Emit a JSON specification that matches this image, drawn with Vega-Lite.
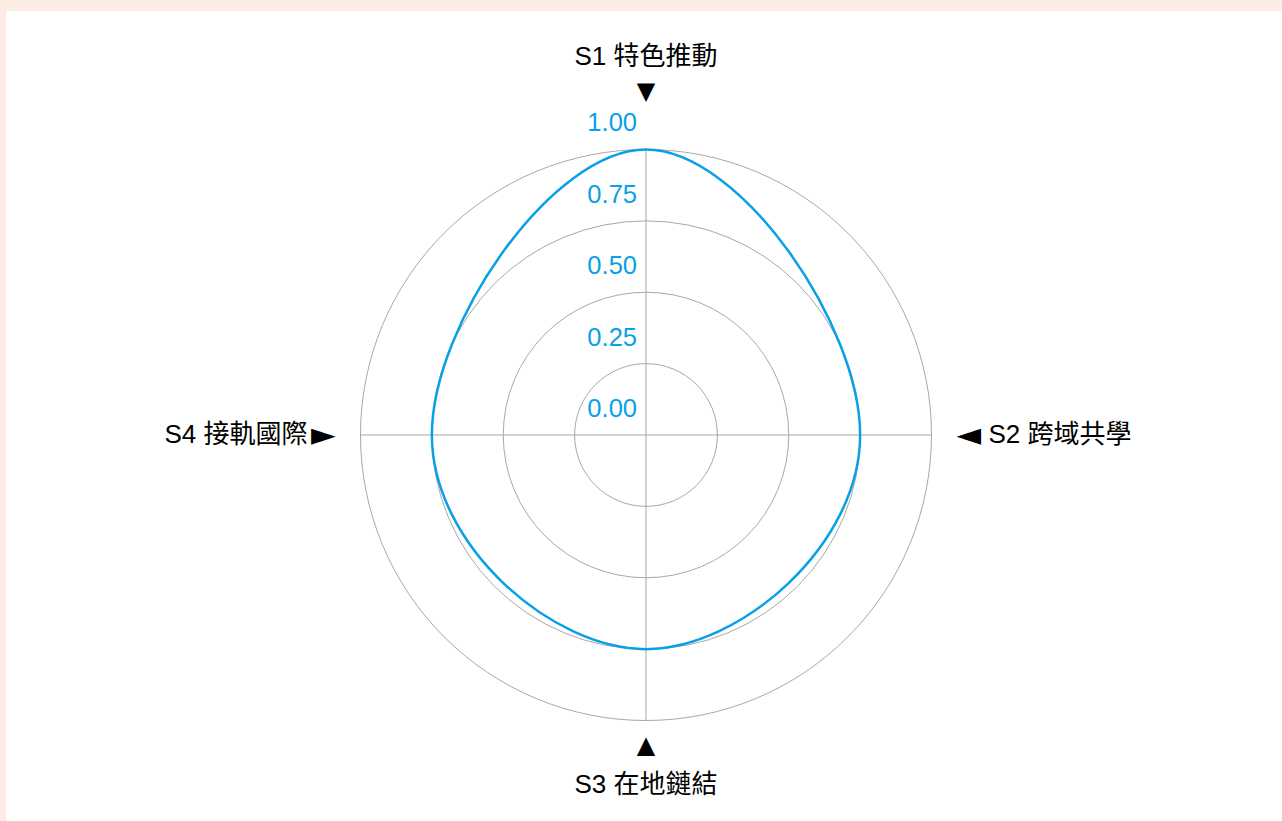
{
  "$schema": "https://vega.github.io/schema/vega-lite/v6.json",
  "width": 1276,
  "height": 810,
  "autosize": {"type": "none"},
  "padding": {"left": 6, "top": 11, "right": 0, "bottom": 0},
  "background": "#fdece4",
  "view": {"fill": "#ffffff", "stroke": null},
  "config": {"font": "Liberation Sans, Noto Sans CJK TC, sans-serif"},
  "datasets": {
    "scores": [
      {"axis": "S1 特色推動", "angle": 0, "score": 1.0},
      {"axis": "S2 跨域共學", "angle": 90, "score": 0.75},
      {"axis": "S3 在地鏈結", "angle": 180, "score": 0.75},
      {"axis": "S4 接軌國際", "angle": 270, "score": 0.75}
    ],
    "ticks": [{"v": 0}, {"v": 0.25}, {"v": 0.5}, {"v": 0.75}, {"v": 1}]
  },
  "data": {"name": "scores"},
  "transform": [
    {"calculate": "sin(datum.angle * PI / 180)", "as": "ex"},
    {"calculate": "cos(datum.angle * PI / 180)", "as": "ey"},
    {"calculate": "0", "as": "o"},
    {"calculate": "datum.score * datum.ex", "as": "px"},
    {"calculate": "datum.score * datum.ey", "as": "py"}
  ],
  "layer": [
    {
      "data": {"name": "ticks"},
      "transform": [{"filter": "datum.v > 0"}, {"calculate": "0", "as": "o"}],
      "mark": {"type": "arc", "filled": false, "stroke": "#a8a8a8", "strokeWidth": 1, "theta": 0, "theta2": 6.283185307179586},
      "encoding": {
        "x": {"field": "o", "type": "quantitative", "scale": {"domain": [-2.24168, 2.22767], "nice": false, "zero": false}, "axis": null},
        "y": {"field": "o", "type": "quantitative", "scale": {"domain": [-1.35201, 1.48511], "nice": false, "zero": false}, "axis": null},
        "radius": {"field": "v", "type": "quantitative", "stack": null, "scale": {"type": "linear", "domain": [0, 1], "range": [0, 285.5], "zero": true}, "legend": null}
      }
    },
    {
      "mark": {"type": "rule", "stroke": "#a8a8a8", "strokeWidth": 1},
      "encoding": {
        "x": {"field": "o", "type": "quantitative", "scale": {"domain": [-2.24168, 2.22767], "nice": false, "zero": false}, "axis": null},
        "y": {"field": "o", "type": "quantitative", "scale": {"domain": [-1.35201, 1.48511], "nice": false, "zero": false}, "axis": null},
        "x2": {"field": "ex"},
        "y2": {"field": "ey"}
      }
    },
    {
      "mark": {"type": "line", "interpolate": "cardinal-closed", "tension": -0.32, "stroke": "#0aa0e6", "strokeWidth": 2.5},
      "encoding": {
        "x": {"field": "px", "type": "quantitative", "scale": {"domain": [-2.24168, 2.22767], "nice": false, "zero": false}, "axis": null},
        "y": {"field": "py", "type": "quantitative", "scale": {"domain": [-1.35201, 1.48511], "nice": false, "zero": false}, "axis": null},
        "order": {"field": "angle", "type": "quantitative"}
      }
    },
    {
      "data": {"name": "ticks"},
      "transform": [{"calculate": "0", "as": "o"}],
      "mark": {"type": "text", "align": "right", "baseline": "middle", "dx": -9, "dy": -26, "fontSize": 25.5, "color": "#0aa0e6"},
      "encoding": {
        "x": {"field": "o", "type": "quantitative", "scale": {"domain": [-2.24168, 2.22767], "nice": false, "zero": false}, "axis": null},
        "y": {"field": "v", "type": "quantitative", "scale": {"domain": [-1.35201, 1.48511], "nice": false, "zero": false}, "axis": null},
        "text": {"field": "v", "type": "quantitative", "format": ".2f"}
      }
    },
    {
      "transform": [{"filter": "datum.angle == 0"}],
      "mark": {"type": "text", "align": "center", "baseline": "middle", "dy": -92.5, "fontSize": 26, "color": "#000000"},
      "encoding": {
        "x": {"field": "ex", "type": "quantitative", "scale": {"domain": [-2.24168, 2.22767], "nice": false, "zero": false}, "axis": null},
        "y": {"field": "ey", "type": "quantitative", "scale": {"domain": [-1.35201, 1.48511], "nice": false, "zero": false}, "axis": null},
        "text": {"field": "axis", "type": "nominal"}
      }
    },
    {
      "transform": [{"filter": "datum.angle == 0"}],
      "mark": {"type": "text", "text": "▼", "font": "DejaVu Sans", "align": "center", "baseline": "middle", "dy": -57.5, "fontSize": 24, "color": "#000000"},
      "encoding": {
        "x": {"field": "ex", "type": "quantitative", "scale": {"domain": [-2.24168, 2.22767], "nice": false, "zero": false}, "axis": null},
        "y": {"field": "ey", "type": "quantitative", "scale": {"domain": [-1.35201, 1.48511], "nice": false, "zero": false}, "axis": null}
      }
    },
    {
      "transform": [{"filter": "datum.angle == 90"}],
      "mark": {"type": "text", "text": "◄", "font": "DejaVu Sans", "align": "left", "baseline": "middle", "dx": 25, "fontSize": 32, "color": "#000000"},
      "encoding": {
        "x": {"field": "ex", "type": "quantitative", "scale": {"domain": [-2.24168, 2.22767], "nice": false, "zero": false}, "axis": null},
        "y": {"field": "ey", "type": "quantitative", "scale": {"domain": [-1.35201, 1.48511], "nice": false, "zero": false}, "axis": null}
      }
    },
    {
      "transform": [{"filter": "datum.angle == 90"}],
      "mark": {"type": "text", "align": "left", "baseline": "middle", "dx": 57, "fontSize": 26, "color": "#000000"},
      "encoding": {
        "x": {"field": "ex", "type": "quantitative", "scale": {"domain": [-2.24168, 2.22767], "nice": false, "zero": false}, "axis": null},
        "y": {"field": "ey", "type": "quantitative", "scale": {"domain": [-1.35201, 1.48511], "nice": false, "zero": false}, "axis": null},
        "text": {"field": "axis", "type": "nominal"}
      }
    },
    {
      "transform": [{"filter": "datum.angle == 180"}],
      "mark": {"type": "text", "text": "▲", "font": "DejaVu Sans", "align": "center", "baseline": "middle", "dy": 25, "fontSize": 24, "color": "#000000"},
      "encoding": {
        "x": {"field": "ex", "type": "quantitative", "scale": {"domain": [-2.24168, 2.22767], "nice": false, "zero": false}, "axis": null},
        "y": {"field": "ey", "type": "quantitative", "scale": {"domain": [-1.35201, 1.48511], "nice": false, "zero": false}, "axis": null}
      }
    },
    {
      "transform": [{"filter": "datum.angle == 180"}],
      "mark": {"type": "text", "align": "center", "baseline": "middle", "dy": 64, "fontSize": 26, "color": "#000000"},
      "encoding": {
        "x": {"field": "ex", "type": "quantitative", "scale": {"domain": [-2.24168, 2.22767], "nice": false, "zero": false}, "axis": null},
        "y": {"field": "ey", "type": "quantitative", "scale": {"domain": [-1.35201, 1.48511], "nice": false, "zero": false}, "axis": null},
        "text": {"field": "axis", "type": "nominal"}
      }
    },
    {
      "transform": [{"filter": "datum.angle == 270"}],
      "mark": {"type": "text", "text": "►", "font": "DejaVu Sans", "align": "right", "baseline": "middle", "dx": -25, "fontSize": 32, "color": "#000000"},
      "encoding": {
        "x": {"field": "ex", "type": "quantitative", "scale": {"domain": [-2.24168, 2.22767], "nice": false, "zero": false}, "axis": null},
        "y": {"field": "ey", "type": "quantitative", "scale": {"domain": [-1.35201, 1.48511], "nice": false, "zero": false}, "axis": null}
      }
    },
    {
      "transform": [{"filter": "datum.angle == 270"}],
      "mark": {"type": "text", "align": "right", "baseline": "middle", "dx": -53, "fontSize": 26, "color": "#000000"},
      "encoding": {
        "x": {"field": "ex", "type": "quantitative", "scale": {"domain": [-2.24168, 2.22767], "nice": false, "zero": false}, "axis": null},
        "y": {"field": "ey", "type": "quantitative", "scale": {"domain": [-1.35201, 1.48511], "nice": false, "zero": false}, "axis": null},
        "text": {"field": "axis", "type": "nominal"}
      }
    }
  ]
}
